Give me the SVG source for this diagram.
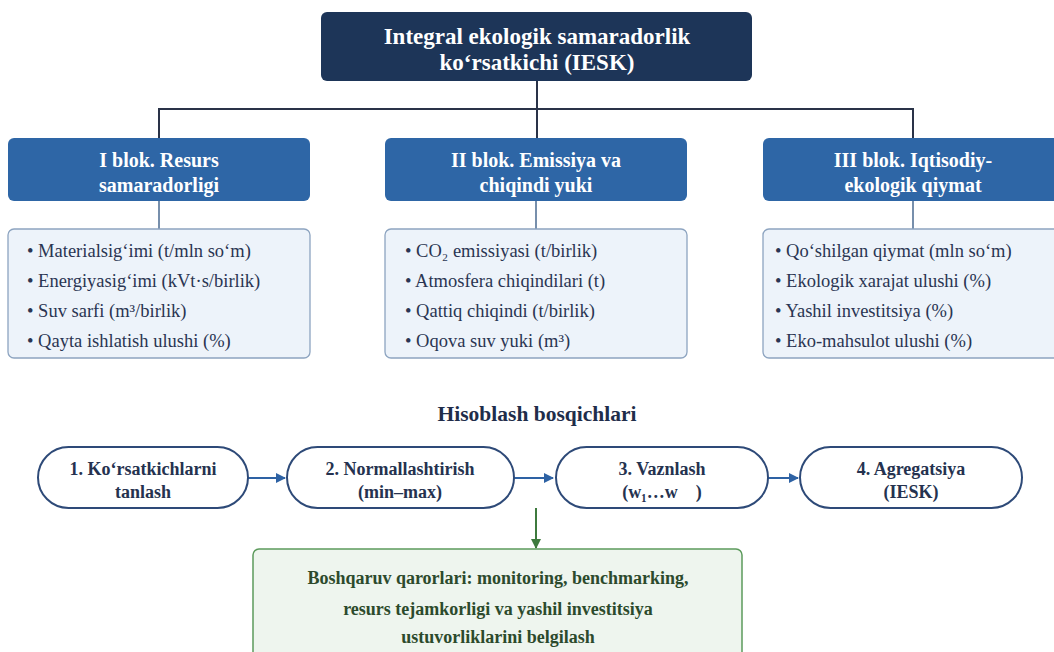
<svg xmlns="http://www.w3.org/2000/svg" width="1054" height="652" viewBox="0 0 1054 652">
<defs>
<style>
text{font-family:"Liberation Serif","Times New Roman",serif;text-anchor:middle}
.title{font-size:23px;font-weight:bold;fill:#ffffff}
.hdr{font-size:20px;font-weight:bold;fill:#ffffff}
.item{font-size:18.5px;fill:#2a3552;text-anchor:start}
.sec{font-size:21.5px;font-weight:bold;fill:#1f2d4a}
.step{font-size:18px;font-weight:bold;fill:#25324f}
.dec{font-size:18px;font-weight:bold;fill:#2c4a2c}
.topbox{fill:#1d3558}
.hbox{fill:#2e66a6}
.dbox{fill:#edf3fa;stroke:#8da4c0;stroke-width:1.3}
.pill{fill:#ffffff;stroke:#2e4a78;stroke-width:2}
.tree{stroke:#2a3348;stroke-width:2;fill:none}
.sub{stroke:#4a6a90;stroke-width:1.5;fill:none}
.flow{stroke:#2e62a4;stroke-width:2;fill:none}
.gflow{stroke:#3d7a3d;stroke-width:2;fill:none}
</style>
<marker id="ab" viewBox="0 0 10 10" refX="9" refY="5" markerWidth="5" markerHeight="5" orient="auto"><path d="M0,0 L10,5 L0,10 z" fill="#2e62a4"/></marker>
<marker id="ag" viewBox="0 0 10 10" refX="9" refY="5" markerWidth="5" markerHeight="5" orient="auto"><path d="M0,0 L10,5 L0,10 z" fill="#3d7a3d"/></marker>
</defs>
<rect width="1054" height="652" fill="#ffffff"/>

<g id="connectors">
<path class="tree" d="M537,81 V109"/>
<path class="tree" d="M159,138 V109 H913 V138"/>
<path class="tree" d="M537,109 V138"/>
<path class="sub" d="M159,201 V229"/>
<path class="sub" d="M536,201 V229"/>
<path class="sub" d="M913,201 V229"/>
<path class="flow" d="M248,478 H285" marker-end="url(#ab)"/>
<path class="flow" d="M514,478 H553" marker-end="url(#ab)"/>
<path class="flow" d="M768,478 H798" marker-end="url(#ab)"/>
<path class="gflow" d="M536,508 V548" marker-end="url(#ag)"/>
</g>

<g id="root">
<rect class="topbox" x="321" y="12" width="431" height="69" rx="6"/>
<text class="title" x="537" y="44">Integral ekologik samaradorlik</text>
<text class="title" x="537" y="70">ko‘rsatkichi (IESK)</text>
</g>

<g id="block1">
<rect class="hbox" x="8" y="138" width="302" height="63" rx="6"/>
<text class="hdr" x="159" y="167">I blok. Resurs</text>
<text class="hdr" x="159" y="192">samaradorligi</text>
</g>
<g id="block1-items">
<rect class="dbox" x="8" y="229" width="302" height="129" rx="6"/>
<text class="item" x="27" y="257">• Materialsig‘imi (t/mln so‘m)</text>
<text class="item" x="27" y="287">• Energiyasig‘imi (kVt·s/birlik)</text>
<text class="item" x="27" y="317">• Suv sarfi (m³/birlik)</text>
<text class="item" x="27" y="347">• Qayta ishlatish ulushi (%)</text>
</g>

<g id="block2">
<rect class="hbox" x="385" y="138" width="302" height="63" rx="6"/>
<text class="hdr" x="536" y="167">II blok. Emissiya va</text>
<text class="hdr" x="536" y="192">chiqindi yuki</text>
</g>
<g id="block2-items">
<rect class="dbox" x="385" y="229" width="302" height="129" rx="6"/>
<text class="item" x="405" y="257">• CO₂ emissiyasi (t/birlik)</text>
<text class="item" x="405" y="287">• Atmosfera chiqindilari (t)</text>
<text class="item" x="405" y="317">• Qattiq chiqindi (t/birlik)</text>
<text class="item" x="405" y="347">• Oqova suv yuki (m³)</text>
</g>

<g id="block3">
<rect class="hbox" x="763" y="138" width="302" height="63" rx="6"/>
<text class="hdr" x="913" y="167">III blok. Iqtisodiy-</text>
<text class="hdr" x="913" y="192">ekologik qiymat</text>
</g>
<g id="block3-items">
<rect class="dbox" x="763" y="229" width="302" height="129" rx="6"/>
<text class="item" x="775" y="257">• Qo‘shilgan qiymat (mln so‘m)</text>
<text class="item" x="775" y="287">• Ekologik xarajat ulushi (%)</text>
<text class="item" x="775" y="317">• Yashil investitsiya (%)</text>
<text class="item" x="775" y="347">• Eko-mahsulot ulushi (%)</text>
</g>

<g id="section-title">
<text class="sec" x="537" y="421">Hisoblash bosqichlari</text>
</g>

<g id="step1">
<rect class="pill" x="38" y="447" width="210" height="61" rx="30.5"/>
<text class="step" x="143" y="475">1. Ko‘rsatkichlarni</text>
<text class="step" x="143" y="498">tanlash</text>
</g>
<g id="step2">
<rect class="pill" x="287" y="447" width="227" height="61" rx="30.5"/>
<text class="step" x="400" y="475">2. Normallashtirish</text>
<text class="step" x="400" y="498">(min–max)</text>
</g>
<g id="step3">
<rect class="pill" x="556" y="447" width="212" height="61" rx="30.5"/>
<text class="step" x="662" y="475">3. Vaznlash</text>
<text class="step" x="662" y="498" xml:space="preserve">(w₁…w    )</text>
</g>
<g id="step4">
<rect class="pill" x="800" y="447" width="222" height="61" rx="30.5"/>
<text class="step" x="911" y="475">4. Agregatsiya</text>
<text class="step" x="911" y="498">(IESK)</text>
</g>

<g id="decisions">
<rect x="253" y="549" width="489" height="115" rx="6" fill="#eef5ee" stroke="#5c9a5c" stroke-width="1.5"/>
<text class="dec" x="498" y="584">Boshqaruv qarorlari: monitoring, benchmarking,</text>
<text class="dec" x="498" y="615">resurs tejamkorligi va yashil investitsiya</text>
<text class="dec" x="498" y="643">ustuvorliklarini belgilash</text>
</g>
</svg>
